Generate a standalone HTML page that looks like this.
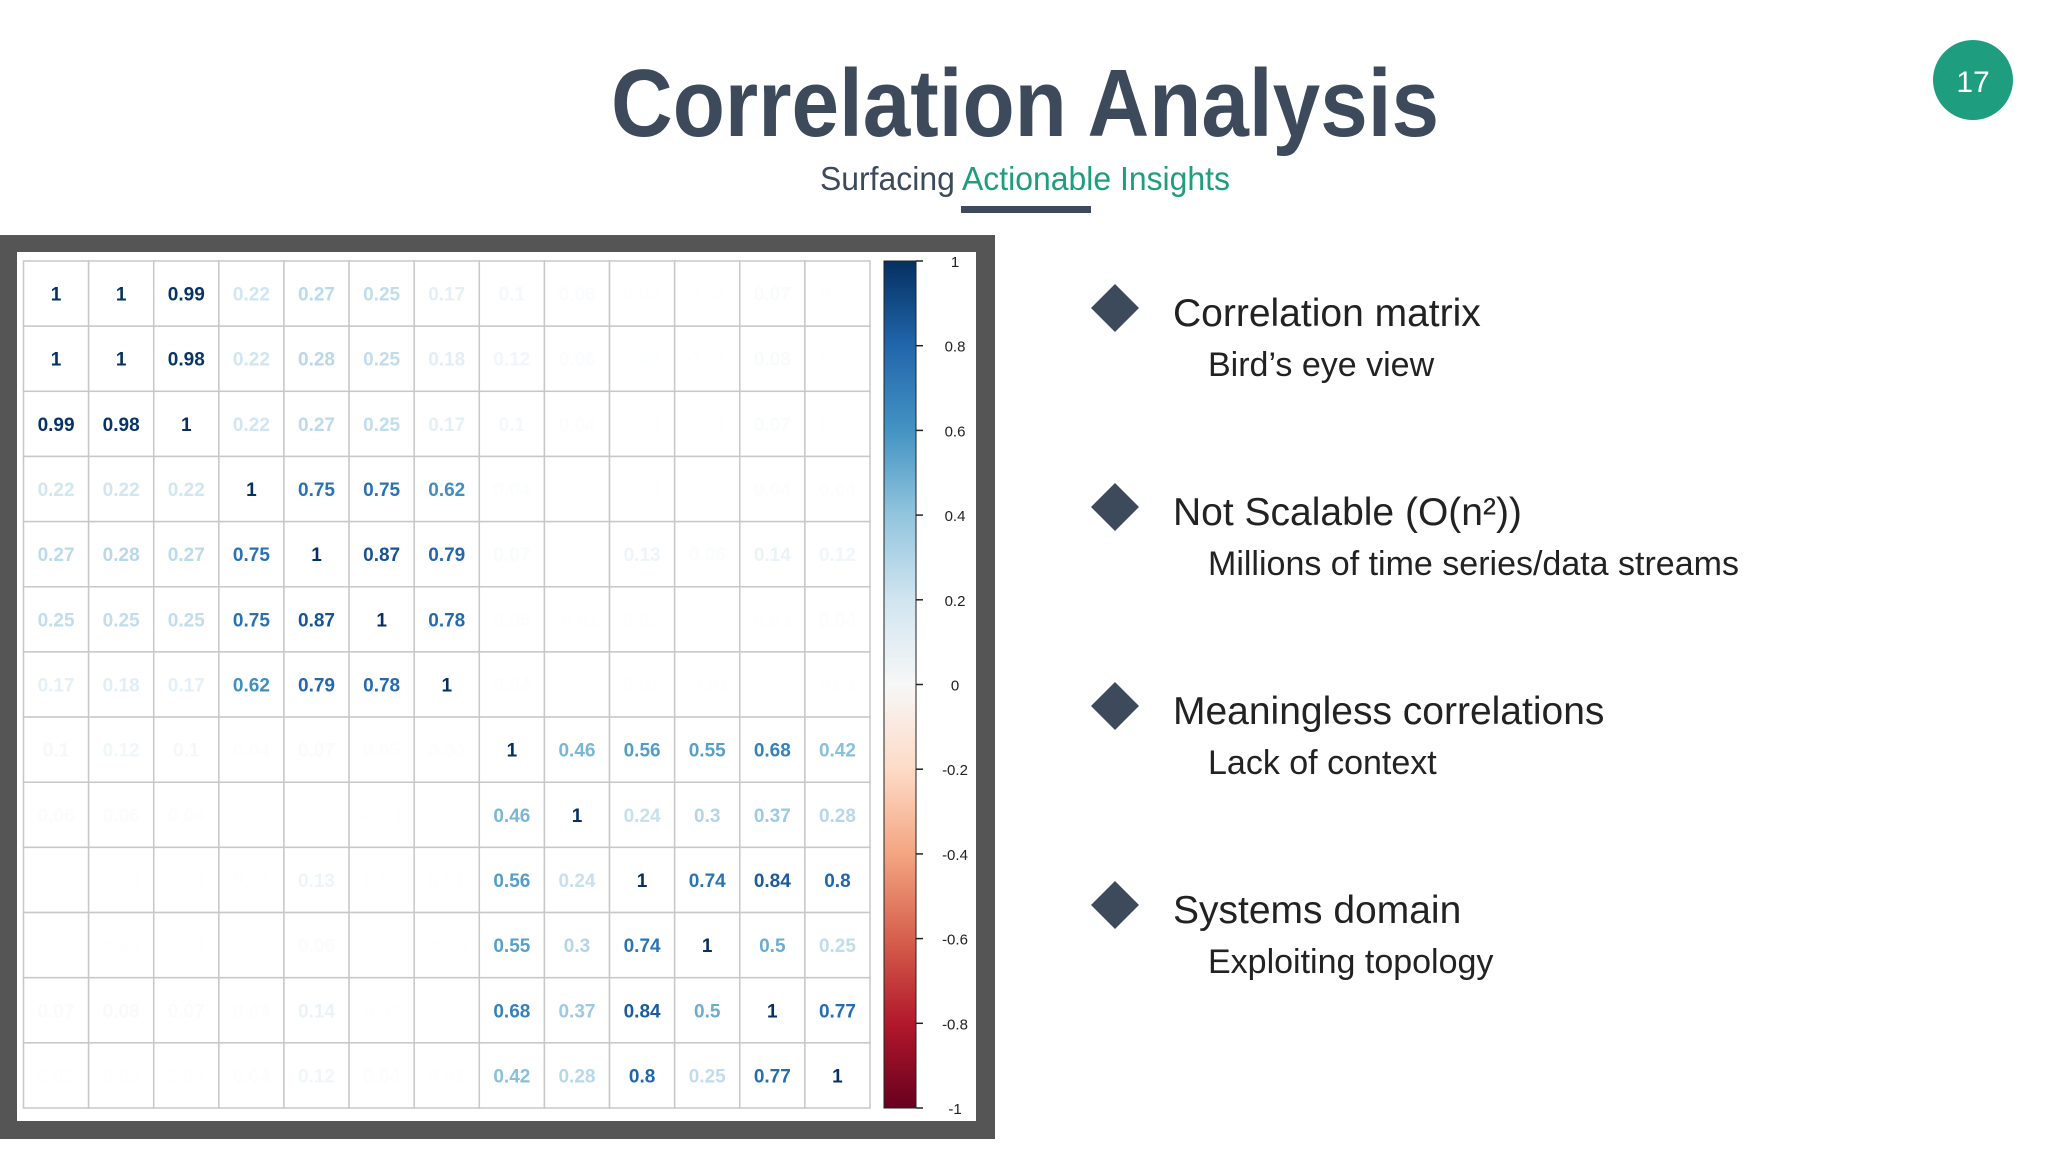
<!DOCTYPE html>
<html><head><meta charset="utf-8"><style>
html,body{margin:0;padding:0;background:#fff;}
svg{display:block;font-family:"Liberation Sans",sans-serif;}
</style></head><body>
<svg id="s" width="2048" height="1152" viewBox="0 0 2048 1152" xmlns="http://www.w3.org/2000/svg">
<defs>
<linearGradient id="rdbu" x1="0" y1="0" x2="0" y2="1">
<stop offset="0" stop-color="#053061"/><stop offset="0.1" stop-color="#2166ac"/><stop offset="0.2" stop-color="#4393c3"/><stop offset="0.3" stop-color="#92c5de"/><stop offset="0.4" stop-color="#d1e5f0"/><stop offset="0.5" stop-color="#f7f7f7"/><stop offset="0.6" stop-color="#fddbc7"/><stop offset="0.7" stop-color="#f4a582"/><stop offset="0.8" stop-color="#d6604d"/><stop offset="0.9" stop-color="#b2182b"/><stop offset="1" stop-color="#67001f"/>
</linearGradient>
</defs>
<text x="1025" y="136" text-anchor="middle" font-size="96" font-weight="bold" fill="#3d4a5c" textLength="828" lengthAdjust="spacingAndGlyphs">Correlation Analysis</text>
<text x="1025" y="190" text-anchor="middle" font-size="33" fill="#3d4a5c" textLength="410" lengthAdjust="spacingAndGlyphs">Surfacing <tspan fill="#1e9e7e">Actionable Insights</tspan></text>
<rect x="961" y="206" width="130" height="7" fill="#3d4a5c"/>
<circle cx="1973" cy="80" r="40" fill="#1e9e7e"/>
<text x="1973" y="92" text-anchor="middle" font-size="30" fill="#fff">17</text>
<rect x="0" y="235" width="995" height="904" fill="#555"/>
<rect x="17" y="252" width="959" height="869" fill="#fff"/>
<g id="grid"></g>
<rect x="884" y="261" width="32" height="847" fill="url(#rdbu)" stroke="#222" stroke-width="1"/>
<g id="cbticks"></g>
<g id="bullets"></g>
</svg>
<script>
const corr = [
[1,1,0.99,0.22,0.27,0.25,0.17,0.1,0.06,0.02,0.03,0.07,0.02],
[1,1,0.98,0.22,0.28,0.25,0.18,0.12,0.06,0.03,0.03,0.08,0.03],
[0.99,0.98,1,0.22,0.27,0.25,0.17,0.1,0.04,0.03,0.03,0.07,0.03],
[0.22,0.22,0.22,1,0.75,0.75,0.62,0.04,0,0.03,0,0.04,0.04],
[0.27,0.28,0.27,0.75,1,0.87,0.79,0.07,0,0.13,0.06,0.14,0.12],
[0.25,0.25,0.25,0.75,0.87,1,0.78,0.05,-0.01,0.02,0,0.03,0.04],
[0.17,0.18,0.17,0.62,0.79,0.78,1,0.04,0,0.01,-0.01,0,0.01],
[0.1,0.12,0.1,0.04,0.07,0.05,0.04,1,0.46,0.56,0.55,0.68,0.42],
[0.06,0.06,0.04,0,0,-0.01,0,0.46,1,0.24,0.3,0.37,0.28],
[0.02,0.03,0.03,0.03,0.13,0.02,0.01,0.56,0.24,1,0.74,0.84,0.8],
[0.03,0.03,0.03,0,0.06,0,-0.01,0.55,0.3,0.74,1,0.5,0.25],
[0.07,0.08,0.07,0.04,0.14,0.03,0,0.68,0.37,0.84,0.5,1,0.77],
[0.02,0.03,0.03,0.04,0.12,0.04,0.01,0.42,0.28,0.8,0.25,0.77,1]
];
const cbTicks = [1,0.8,0.6,0.4,0.2,0,-0.2,-0.4,-0.6,-0.8,-1];
const bulletTitles = ["Correlation matrix","Not Scalable (O(n\u00B2))","Meaningless correlations","Systems domain"];
const bulletSubs = ["Bird\u2019s eye view","Millions of time series/data streams","Lack of context","Exploiting topology"];

const NS="http://www.w3.org/2000/svg";
function mk(t,a,p){const e=document.createElementNS(NS,t);for(const k in a)e.setAttribute(k,a[k]);p.appendChild(e);return e;}
const stops=[[1,[5,48,97]],[0.8,[33,102,172]],[0.6,[67,147,195]],[0.4,[146,197,222]],[0.2,[209,229,240]],[0,[247,247,247]],[-0.2,[253,219,199]],[-0.4,[244,165,130]],[-0.6,[214,96,77]],[-0.8,[178,24,43]],[-1,[103,0,31]]];
function cmap(v){for(let i=0;i<stops.length-1;i++){const a=stops[i],b=stops[i+1];if(v<=a[0]&&v>=b[0]){const t=(a[0]-v)/(a[0]-b[0]);const c=a[1].map((x,j)=>Math.round(x+(b[1][j]-x)*t));return `rgb(${c})`;}}return "#fff";}
const gx0=23.5,gy0=261,gx1=870,gy1=1108,n=corr.length;
const cw=(gx1-gx0)/n,ch=(gy1-gy0)/n;
const xs=i=>gx0+i*cw, ys=j=>gy0+j*ch;
const g=document.getElementById('grid');
for(let r=0;r<n;r++)for(let c=0;c<n;c++){
 const v=corr[r][c];
 const rc=mk('rect',{x:xs(c),y:ys(r),width:cw,height:ch,fill:'#fff',stroke:'#c8c8c8','stroke-width':1.5},g);
 
 
 if(v!==0){
  const op=Math.max(0.12,Math.min(1,Math.abs(v)*4));
  const t=mk('text',{x:xs(c)+cw/2,y:ys(r)+ch/2+7,'text-anchor':'middle','font-size':19,'font-weight':'bold',fill:cmap(v),'fill-opacity':op},g);
  t.textContent=String(v);
  
  
 }
}
const cb=document.getElementById('cbticks');
const cy=v=>261+(1-v)/2*847;
cbTicks.forEach(v=>{
 const l=mk('line',{x1:916,x2:923,y1:cy(v),y2:cy(v),stroke:'#222','stroke-width':1.5},cb);
 
 
 const t=mk('text',{x:955,y:cy(v)+6,'text-anchor':'middle','font-size':15,fill:'#222'},cb);
 t.textContent=String(v);
 
 
});
const bl=document.getElementById('bullets');
bulletTitles.forEach((s,i)=>{
 const y=308+i*199;
 const d=mk('polygon',{points:`1115,${y-24} 1139,${y} 1115,${y+24} 1091,${y}`,fill:'#3d4a5c'},bl);
 
 
 const t=mk('text',{x:1173,y:y+18,'font-size':39,fill:'#222'},bl);
 t.textContent=s;
 
 
 const u=mk('text',{x:1208,y:y+68,'font-size':34,fill:'#222'},bl);
 u.textContent=bulletSubs[i];
 
 
});
</script>
</body></html>
